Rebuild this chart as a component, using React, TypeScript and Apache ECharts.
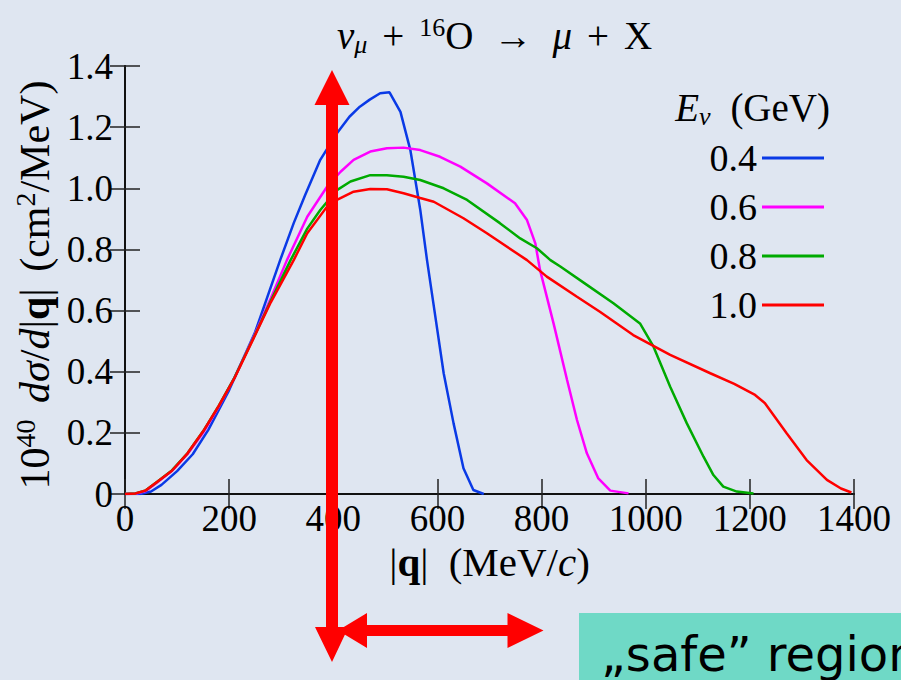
import React, { useEffect, useRef } from "react";
import * as echarts from "echarts";

// ---- data ----
const energyLabels = ["0.4", "0.6", "0.8", "1.0"];

const q04 = [0, 30, 50, 70, 100, 130, 160, 200, 250, 298, 324, 346, 375, 407, 431, 451, 470, 490, 508, 529, 548, 567, 580, 596, 612, 631, 650, 669, 689];
const v04 = [0, 0, 0.008, 0.03, 0.075, 0.13, 0.21, 0.34, 0.53, 0.765, 0.886, 0.978, 1.093, 1.18, 1.234, 1.267, 1.29, 1.311, 1.314, 1.25, 1.125, 0.93, 0.765, 0.58, 0.395, 0.231, 0.084, 0.013, 0];

const q06 = [0, 20, 40, 60, 90, 120, 150, 180, 210, 250, 280, 311, 350, 388, 414, 439, 471, 503, 535, 567, 605, 644, 695, 749, 772, 788, 797, 823, 849, 868, 887, 909, 932, 967];
const v06 = [0, 0.001, 0.01, 0.035, 0.075, 0.13, 0.2, 0.285, 0.38, 0.525, 0.64, 0.765, 0.907, 1.005, 1.054, 1.093, 1.12, 1.131, 1.133, 1.125, 1.103, 1.071, 1.016, 0.951, 0.896, 0.82, 0.733, 0.558, 0.373, 0.242, 0.133, 0.051, 0.011, 0.002];

const q08 = [0, 20, 40, 60, 90, 120, 150, 180, 210, 250, 280, 318, 350, 375, 407, 433, 471, 503, 535, 567, 612, 657, 720, 759, 791, 817, 836, 887, 938, 989, 1015, 1047, 1079, 1111, 1130, 1149, 1175, 1207];
const v08 = [0, 0.002, 0.012, 0.038, 0.077, 0.133, 0.205, 0.288, 0.38, 0.522, 0.632, 0.765, 0.868, 0.929, 0.994, 1.022, 1.043, 1.043, 1.038, 1.027, 1.0, 0.962, 0.886, 0.836, 0.804, 0.765, 0.744, 0.684, 0.624, 0.558, 0.482, 0.351, 0.231, 0.122, 0.062, 0.024, 0.008, 0.002];

const q10 = [0, 20, 40, 60, 90, 120, 150, 180, 210, 250, 280, 324, 350, 388, 407, 439, 471, 503, 535, 567, 593, 650, 695, 772, 810, 868, 912, 976, 1047, 1124, 1170, 1210, 1229, 1271, 1309, 1348, 1375, 1395];
const v10 = [0, 0.002, 0.012, 0.038, 0.076, 0.133, 0.205, 0.288, 0.378, 0.52, 0.627, 0.765, 0.853, 0.94, 0.962, 0.989, 0.998, 0.997, 0.984, 0.968, 0.956, 0.902, 0.853, 0.765, 0.711, 0.645, 0.596, 0.52, 0.455, 0.395, 0.36, 0.324, 0.297, 0.198, 0.111, 0.046, 0.018, 0.005];

const xTicks = { min: 0, max: 1400, interval: 200 };
const yTicks = { min: 0, max: 1.4, interval: 0.2 };

// ---- styles ----
const lineColors = ["#0a3ae6", "#ff00ff", "#00aa00", "#ff0000"];
const BG = "#dfe6f1";
const SERIF = "Liberation Serif";

const seriesQ = [q04, q06, q08, q10];
const seriesV = [v04, v06, v08, v10];

function mkRich(size: number, opPad: number, arrPad: number, spPad: number) {
  const base = { fontFamily: SERIF, fontSize: size, lineHeight: size + 4, color: "#000", fontWeight: "normal" as const, fontStyle: "normal" as const };
  const small = Math.round(size * 0.66);
  return {
    n: { ...base },
    it: { ...base, fontStyle: "italic" },
    b: { ...base, fontWeight: "bold" },
    sp: { ...base, padding: [0, spPad, 0, 0] },
    sup: { ...base, fontSize: small, lineHeight: small, verticalAlign: "top" },
    sub: { ...base, fontSize: small, lineHeight: small, verticalAlign: "bottom", fontStyle: "italic" },
    op: { ...base, padding: [0, opPad, 0, opPad] },
    arr: { ...base, padding: [0, arrPad, 0, arrPad] },
  };
}

const titleRich = mkRich(39, 15, 20, 0);
const headRich = mkRich(39, 0, 0, 10);
const xNameRich = mkRich(41, 0, 0, 10);
const yNameRich = mkRich(42, 0, 0, 6);

export default function App() {
  const ref = useRef<HTMLDivElement>(null);

  useEffect(() => {
    document.body.style.margin = "0";
    const chart = echarts.init(ref.current!, null, { renderer: "svg" });

    const axisLineStyle = { color: "#111", width: 2 };
    const tickStyle = { color: "#222", width: 1.5 };

    const option: any = {
      animation: false,
      backgroundColor: BG,
      textStyle: { fontFamily: SERIF, color: "#000" },
      title: [
        {
          text: "{it|ν}{sub|μ}{op|+}{sup|16}{n|O}{arr|→}{it|μ}{op|+}{n|X}",
          left: 332,
          top: 9,
          textStyle: { fontWeight: "normal", rich: titleRich },
        },
        {
          text: "{it|E}{sub|ν}{sp| }{n|(GeV)}",
          right: 66,
          top: 81,
          textStyle: { fontWeight: "normal", rich: headRich },
        },
      ],
      legend: {
        orient: "vertical",
        right: 72,
        top: 134,
        align: "right",
        icon: "rect",
        itemWidth: 62,
        itemHeight: 3,
        itemGap: 11,
        selectedMode: false,
        textStyle: { fontSize: 38, fontFamily: SERIF, color: "#000", lineHeight: 38 },
        data: energyLabels,
      },
      grid: { left: 125, right: 47, top: 66, bottom: 186, containLabel: false },
      xAxis: [
        {
          type: "value",
          ...xTicks,
          position: "bottom",
          name: "{n||}{b|q}{n||}{sp| }{n|(MeV/}{it|c}{n|)}",
          nameLocation: "middle",
          nameGap: 45,
          nameTextStyle: { rich: xNameRich },
          axisLine: { show: true, lineStyle: axisLineStyle },
          axisTick: { show: true, inside: true, length: 15, lineStyle: tickStyle },
          axisLabel: {
            fontSize: 37,
            fontFamily: SERIF,
            color: "#000",
            margin: 6,
            formatter: (v: number) => String(v),
          },
          splitLine: { show: false },
        },
        {
          type: "value",
          ...xTicks,
          position: "top",
          axisLine: { show: true, lineStyle: axisLineStyle },
          axisTick: { show: true, inside: true, length: 15, lineStyle: tickStyle },
          axisLabel: { show: false },
          splitLine: { show: false },
        },
      ],
      yAxis: [
        {
          type: "value",
          ...yTicks,
          position: "left",
          name: "{n|10}{sup|40}{sp| }{it|dσ}{n|/}{it|d}{n||}{b|q}{n||}{sp| }{n|(cm}{sup|2}{n|/MeV)}",
          nameLocation: "middle",
          nameGap: 64,
          nameTextStyle: { rich: yNameRich, padding: [0, 10, 0, 0] },
          axisLine: { show: true, lineStyle: axisLineStyle },
          axisTick: { show: true, inside: true, length: 15, lineStyle: tickStyle },
          axisLabel: {
            fontSize: 37,
            fontFamily: SERIF,
            color: "#000",
            margin: 12,
            formatter: (v: number) => (v === 0 ? "0" : v.toFixed(1)),
          },
          splitLine: { show: false },
        },
        {
          type: "value",
          ...yTicks,
          position: "right",
          axisLine: { show: true, lineStyle: axisLineStyle },
          axisTick: { show: true, inside: true, length: 15, lineStyle: tickStyle },
          axisLabel: { show: false },
          splitLine: { show: false },
        },
      ],
      series: energyLabels.map((name, i) => ({
        name,
        type: "line",
        xAxisIndex: 0,
        yAxisIndex: 0,
        showSymbol: false,
        symbol: "none",
        lineStyle: { color: lineColors[i], width: 2.5 },
        itemStyle: { color: lineColors[i] },
        data: seriesQ[i].map((q, j) => [q, seriesV[i][j]]),
      })),
      graphic: [
        {
          type: "polygon",
          z: 100,
          shape: {
            points: [
              [332, 70], [349.5, 105], [338, 105], [338, 627], [348.5, 627],
              [332, 662], [315, 627], [326, 627], [326, 105], [314.5, 105],
            ],
          },
          style: { fill: "#ff0000" },
        },
        {
          type: "polygon",
          z: 100,
          shape: {
            points: [
              [338, 630.5], [367, 613], [367, 625], [507.5, 625], [507.5, 613],
              [543.5, 630.5], [507.5, 648], [507.5, 636], [367, 636], [367, 648],
            ],
          },
          style: { fill: "#ff0000" },
        },
        {
          type: "rect",
          z: 100,
          shape: { x: 579, y: 613, width: 340, height: 80 },
          style: { fill: "#6fd9c6" },
        },
        {
          type: "text",
          z: 101,
          x: 601,
          y: 654,
          style: {
            text: "\u201Esafe\u201D region",
            fontFamily: "DejaVu Sans",
            fontSize: 48,
            fill: "#000",
            verticalAlign: "middle",
            align: "left",
          },
        },
      ],
    };

    chart.setOption(option);
    return () => chart.dispose();
  }, []);

  return (
    <div
      ref={ref}
      style={{ position: "fixed", left: 0, top: 0, width: 901, height: 680 }}
    />
  );
}
